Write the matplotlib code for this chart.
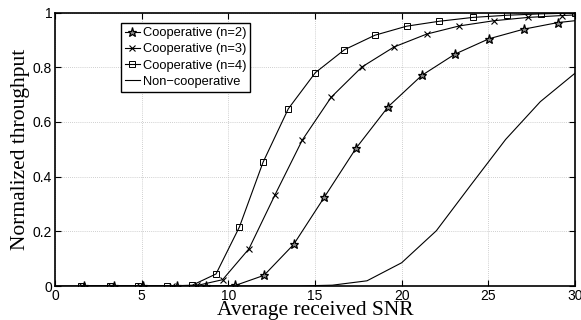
import matplotlib
matplotlib.use("Agg")
import matplotlib.pyplot as plt
import numpy as np

# Cooperative (n=2) -- stars
x_n2 = [1.67, 3.38, 5.1, 7.02, 8.69, 10.4, 12.06, 13.77, 15.53, 17.37, 19.23, 21.16, 23.08, 25.04, 27.04, 29.0, 30.0]
y_n2 = [0, 0, 0, 0, 0, 0.002, 0.039, 0.152, 0.324, 0.504, 0.656, 0.770, 0.848, 0.904, 0.939, 0.963, 0.970]

# Cooperative (n=3) -- x marks
x_n3 = [1.55, 3.25, 4.9, 6.75, 8.2, 9.67, 11.19, 12.69, 14.27, 15.93, 17.71, 19.56, 21.44, 23.33, 25.33, 27.29, 29.27, 30.0]
y_n3 = [0, 0, 0, 0, 0.002, 0.023, 0.136, 0.333, 0.534, 0.690, 0.801, 0.874, 0.921, 0.951, 0.970, 0.982, 0.989, 0.991]

# Cooperative (n=4) -- squares
x_n4 = [1.5, 3.15, 4.8, 6.48, 7.92, 9.29, 10.64, 12.0, 13.46, 15.02, 16.7, 18.46, 20.29, 22.17, 24.1, 26.08, 28.04, 30.0]
y_n4 = [0, 0, 0, 0, 0.003, 0.044, 0.216, 0.452, 0.648, 0.780, 0.864, 0.917, 0.950, 0.968, 0.982, 0.990, 0.995, 0.998]

# Non-cooperative
x_nc = [0, 2, 4, 6, 8, 10, 12, 14, 16, 18, 20, 22, 24, 26, 28, 30]
y_nc = [0, 0, 0, 0, 0, 0, 0, 0, 0.003, 0.019, 0.085, 0.202, 0.37, 0.536, 0.674, 0.778]

labels = ["Cooperative (n=2)", "Cooperative (n=3)", "Cooperative (n=4)", "Non\u2212cooperative"]
xticks = [0, 5, 10, 15, 20, 25, 30]
yticks = [0, 0.2, 0.4, 0.6, 0.8, 1]
ytick_labels = ["0", "0.2", "0.4", "0.6", "0.8", "1"]

W, H = 581, 320
fig = plt.figure(figsize=(W / 100, H / 100), dpi=100)
ax = fig.add_axes([55 / W, 1 - 286 / H, 520 / W, 273.5 / H])

lw = 0.8
ax.plot(x_n2, y_n2, color="black", lw=lw, marker="*", ms=6.5, mfc="#888888", mec="black", mew=0.9,
        markevery=list(range(len(x_n2) - 1)), label=labels[0])
ax.plot(x_n3, y_n3, color="black", lw=lw, marker="x", ms=4.5, mec="black", mew=0.8,
        markevery=list(range(len(x_n3) - 1)), label=labels[1])
ax.plot(x_n4, y_n4, color="black", lw=lw, marker="s", ms=5, mfc="none", mec="black", mew=0.7,
        label=labels[2])
ax.plot(x_nc, y_nc, color="black", lw=lw, label=labels[3])

ax.set_xlim(0, 30)
ax.set_ylim(0, 1)
ax.set_xticks(xticks)
ax.set_yticks(yticks)
ax.set_yticklabels(ytick_labels)
ax.grid(True, color="#c0c0c0", linestyle=(0, (1, 1.5)), linewidth=0.6)
ax.tick_params(direction="in", top=True, right=True, length=4, width=0.8,
               labelsize=10, pad=2)
for lab in ax.get_xticklabels() + ax.get_yticklabels():
    lab.set_family("Liberation Sans")
for sp in ax.spines.values():
    sp.set_linewidth(1.2)
    sp.set_color("black")

ax.set_xlabel("Average received SNR", family="Liberation Serif", fontsize=15.5)
ax.xaxis.label.set_va("baseline")
ax.xaxis.set_label_coords(0.5, (286 - 314.5) / 273.5)
ax.set_ylabel("Normalized throughput", family="Liberation Serif", fontsize=15.5, labelpad=2)

leg = ax.legend(loc="upper left", bbox_to_anchor=((120.7 - 55) / 520, (286 - 23.3) / 273.5),
                borderaxespad=0, prop={"family": "Liberation Sans", "size": 9.3},
                handlelength=1.2, handletextpad=0.2, labelspacing=0.32,
                borderpad=0.3, fancybox=False, framealpha=1, edgecolor="black")
leg.get_frame().set_linewidth(1.0)

fig.savefig("out.png", dpi=100)
